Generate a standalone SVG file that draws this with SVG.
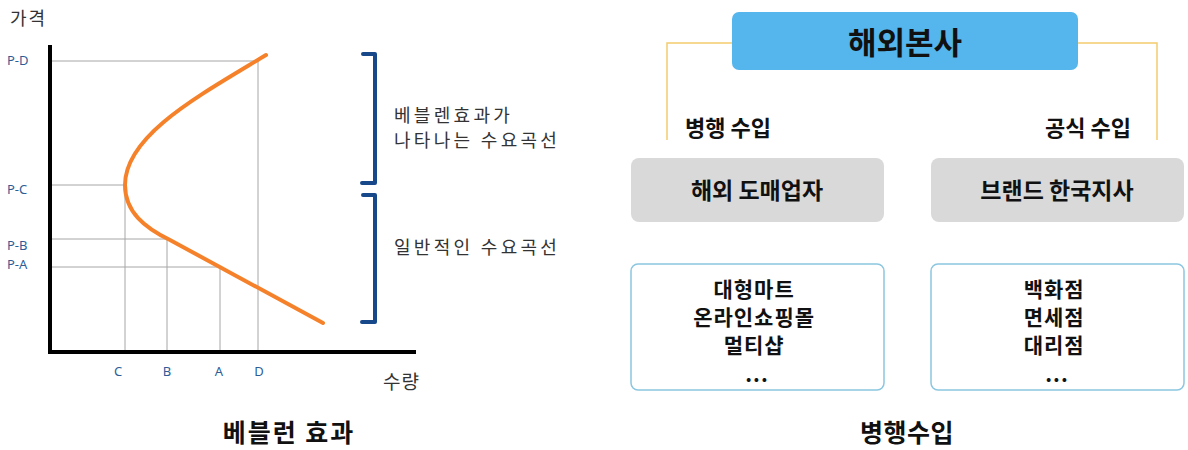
<svg xmlns="http://www.w3.org/2000/svg" width="1188" height="450" viewBox="0 0 1188 450">
<style>
.thin{font-family:"Noto Sans CJK KR",sans-serif;font-weight:400;fill:#333;font-size:18px;letter-spacing:3.3px}
.ax{font-family:"Noto Sans","Liberation Sans",sans-serif;font-size:13px;fill:#2e5d96}
.grid{stroke:#a6a6a6;stroke-width:1;fill:none}
.axis{stroke:#000;stroke-width:4;fill:none}
.brk{stroke:#17488a;stroke-width:4;fill:none;stroke-linecap:round;stroke-linejoin:round}
.bold{font-family:"Noto Sans CJK KR",sans-serif;font-weight:700;fill:#111}
.conn{stroke:#f3cb6e;stroke-width:1.5;fill:none}
.gray{fill:#d9d9d9}
.white{fill:#fff;stroke:#8cc6e0;stroke-width:1.5}
.list{font-size:21px;letter-spacing:1px}
</style>
<rect width="1188" height="450" fill="#fff"/>
<g id="chart">
  <g id="grid">
    <path class="grid" d="M50,61H258V352M50,185H125V352M50,239H167V352M50,267H220V352"/>
  </g>
  <path class="axis" d="M50,45V352H416"/>
  <path id="curve" d="M266,55 C200,95 125,135 125,185 C125,212 145,228 170,240 L323,323" fill="none" stroke="#f5822a" stroke-width="4" stroke-linecap="round"/>
  <g id="ylabels" class="ax">
    <text x="7" y="65">P-D</text>
    <text x="7" y="194">P-C</text>
    <text x="7" y="250">P-B</text>
    <text x="7" y="269">P-A</text>
  </g>
  <g id="xlabels" class="ax" text-anchor="middle">
    <text x="118" y="376">C</text>
    <text x="167" y="376">B</text>
    <text x="219" y="376">A</text>
    <text x="259" y="376">D</text>
  </g>
  <text class="thin" x="10" y="25" style="font-size:18px;letter-spacing:2px">가격</text>
  <text class="thin" x="383" y="389" style="font-size:19px;letter-spacing:1px">수량</text>
  <g id="brackets">
    <path class="brk" d="M363,54H375V183H362"/>
    <path class="brk" d="M363,195H375V322H362"/>
  </g>
  <text class="thin" x="394" y="122">베블렌효과가</text>
  <text class="thin" x="394" y="147">나타나는 수요곡선</text>
  <text class="thin" x="394" y="254">일반적인 수요곡선</text>
  <text class="bold" x="289" y="442" text-anchor="middle" style="font-size:25px;letter-spacing:2px">베블런 효과</text>
</g>
<g id="connectors">
  <path class="conn" d="M733,43H667V140"/>
  <path class="conn" d="M1077,43H1157V140"/>
</g>
<g id="hq">
  <rect x="732" y="12" width="346" height="58" rx="7" fill="#55b5ed"/>
  <text class="bold" x="905" y="54" text-anchor="middle" style="font-size:31px">해외본사</text>
</g>
<text id="label-parallel" class="bold" x="685" y="136" style="font-size:22px">병행 수입</text>
<text id="label-official" class="bold" x="1045" y="136" style="font-size:22px">공식 수입</text>
<g id="wholesaler">
  <rect class="gray" x="631" y="158" width="253" height="64" rx="8"/>
  <text class="bold" x="757" y="199" text-anchor="middle" style="font-size:23px">해외 도매업자</text>
</g>
<g id="branch">
  <rect class="gray" x="931" y="158" width="253" height="64" rx="8"/>
  <text class="bold" x="1057" y="199" text-anchor="middle" style="font-size:23px">브랜드 한국지사</text>
</g>
<g id="parallel-channels">
  <rect class="white" x="631" y="264" width="253" height="126" rx="7"/>
  <text class="bold list" text-anchor="middle">
    <tspan x="757" y="297">대형마트</tspan>
    <tspan x="757" y="325">온라인쇼핑몰</tspan>
    <tspan x="757" y="353">멀티샵</tspan>
    <tspan x="757" y="382">...</tspan>
  </text>
</g>
<g id="official-channels">
  <rect class="white" x="931" y="264" width="253" height="126" rx="7"/>
  <text class="bold list" text-anchor="middle">
    <tspan x="1057" y="297">백화점</tspan>
    <tspan x="1057" y="325">면세점</tspan>
    <tspan x="1057" y="353">대리점</tspan>
    <tspan x="1057" y="382">...</tspan>
  </text>
</g>
<text class="bold" x="907" y="442" text-anchor="middle" style="font-size:25px;letter-spacing:0.5px">병행수입</text>
</svg>
